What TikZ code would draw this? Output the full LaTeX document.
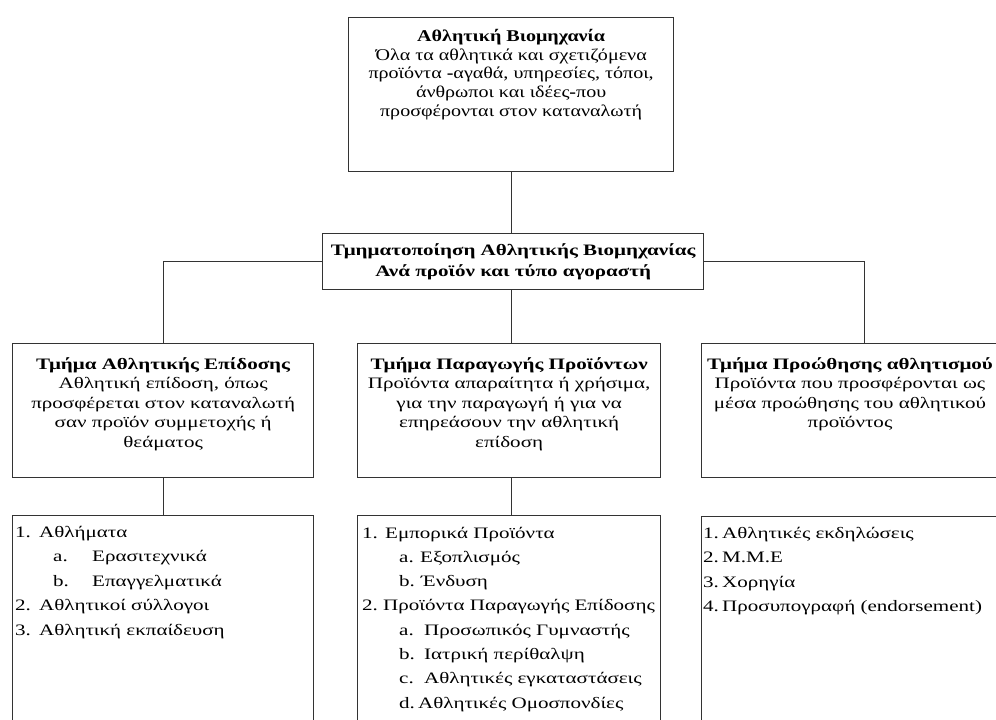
\documentclass[tikz,border=0pt]{standalone}
\usepackage{fontspec}
\setmainfont{Liberation Serif}
\newfontfamily\widef[FakeStretch=1.32]{Liberation Serif}
\newfontfamily\topfnt[FakeStretch=1.22]{Liberation Serif}
\begin{document}
\begin{tikzpicture}[x=1bp,y=-1bp,
  box/.style={draw=black!80, line width=1.3bp, inner sep=0pt, anchor=north west},
  lbl/.style={anchor=north, align=center, inner sep=0pt, font=\widef\fontsize{16}{19.7}\selectfont},
  itm/.style={anchor=base west, inner sep=0pt, font=\widef\fontsize{16}{19}\selectfont},
  conn/.style={draw=black!80, line width=1.3bp}]
\useasboundingbox (0,0) rectangle (996,720);
% boxes
\node[box, minimum width=325bp, minimum height=154bp] (top) at (348,17) {};
\node[box, minimum width=381bp, minimum height=56bp, align=center,
      font=\widef\fontsize{16}{21}\selectfont\bfseries] (mid) at (322,233)
      {Τμηματοποίηση Αθλητικής Βιομηχανίας\\Ανά προϊόν και τύπο αγοραστή};
\node[box, minimum width=301bp, minimum height=134bp] (left) at (12,343) {};
\node[box, minimum width=303bp, minimum height=134bp] (prod) at (357,343) {};
\node[box, minimum width=326bp, minimum height=134bp] (prom) at (701,343) {};
\node[box, minimum width=301bp, minimum height=230bp] (leftl) at (12,515) {};
\node[box, minimum width=303bp, minimum height=230bp] (prodl) at (357,515) {};
\node[box, minimum width=326bp, minimum height=230bp] (proml) at (701,516) {};
% box texts
\node[lbl, font=\topfnt\fontsize{16.5}{18.8}\selectfont] (toptxt) at ([yshift=-12bp]top.north)
  {\textbf{Αθλητική Βιομηχανία}\\Όλα τα αθλητικά και σχετιζόμενα\\
   προϊόντα \textbf{-}αγαθά, υπηρεσίες, τόποι,\\άνθρωποι και ιδέες\textbf{-}που\\
   προσφέρονται στον καταναλωτή};
\node[lbl] (lefttxt) at ([yshift=-14bp]left.north)
  {\textbf{Τμήμα Αθλητικής Επίδοσης}\\Αθλητική επίδοση, όπως\\προσφέρεται στον καταναλωτή\\
   σαν προϊόν συμμετοχής ή\\θεάματος};
\node[lbl] (prodtxt) at ([yshift=-14bp]prod.north)
  {\textbf{Τμήμα Παραγωγής Προϊόντων}\\Προϊόντα απαραίτητα ή χρήσιμα,\\για την παραγωγή ή για να\\
   επηρεάσουν την αθλητική\\επίδοση};
\node[lbl] (promtxt) at (850,357)
  {\textbf{Τμήμα Προώθησης αθλητισμού}\\Προϊόντα που προσφέρονται ως\\μέσα προώθησης του αθλητικού\\
   προϊόντος};
% connectors
\draw[conn] (top.south) -- (top.south |- mid.north);
\draw[conn] (mid.west) -| (left.north);
\draw[conn] (mid.east) -| (prom.north);
\draw[conn] (top.south |- mid.south) -- (top.south |- prod.north);
\draw[conn] (left.south) -- (left.south |- leftl.north);
\draw[conn] (top.south |- prod.south) -- (top.south |- prodl.north);
% left list
\node[itm] (l1n) at (15,537) {1.};   \node[itm] (l1) at (39,537) {Αθλήματα};
\node[itm] (l1an) at (53,561.5) {a.}; \node[itm] (l1a) at (92,561.5) {Ερασιτεχνικά};
\node[itm] (l1bn) at (53,586) {b.};  \node[itm] (l1b) at (92,586) {Επαγγελματικά};
\node[itm] (l2n) at (15,610.5) {2.}; \node[itm] (l2) at (39,610.5) {Αθλητικοί σύλλογοι};
\node[itm] (l3n) at (15,635) {3.};   \node[itm] (l3) at (39,635) {Αθλητική εκπαίδευση};
% middle list
\node[itm] (m1n) at (362,538) {1.};   \node[itm] (m1) at (385,538) {Εμπορικά Προϊόντα};
\node[itm] (m1an) at (399,562) {a.};  \node[itm] (m1a) at (420,562) {Εξοπλισμός};
\node[itm] (m1bn) at (399,586) {b.};  \node[itm] (m1b) at (421,586) {Ένδυση};
\node[itm] (m2n) at (362,610) {2.};   \node[itm] (m2) at (383,610) {Προϊόντα Παραγωγής Επίδοσης};
\node[itm] (m2an) at (399,635) {a.};  \node[itm] (m2a) at (424,635) {Προσωπικός Γυμναστής};
\node[itm] (m2bn) at (399,659) {b.};  \node[itm] (m2b) at (424,659) {Ιατρική περίθαλψη};
\node[itm] (m2cn) at (399,683) {c.};  \node[itm] (m2c) at (424,683) {Αθλητικές εγκαταστάσεις};
\node[itm] (m2dn) at (399,708) {d.};  \node[itm] (m2d) at (418,708) {Αθλητικές Ομοσπονδίες};
% right list
\node[itm] (r1n) at (703,538) {1.}; \node[itm] (r1) at (722,538) {Αθλητικές εκδηλώσεις};
\node[itm] (r2n) at (703,562) {2.}; \node[itm] (r2) at (722,562) {Μ.Μ.Ε};
\node[itm] (r3n) at (703,587) {3.}; \node[itm] (r3) at (722,587) {Χορηγία};
\node[itm] (r4n) at (703,611) {4.}; \node[itm] (r4) at (722,611) {Προσυπογραφή (endorsement)};
\end{tikzpicture}
\end{document}
